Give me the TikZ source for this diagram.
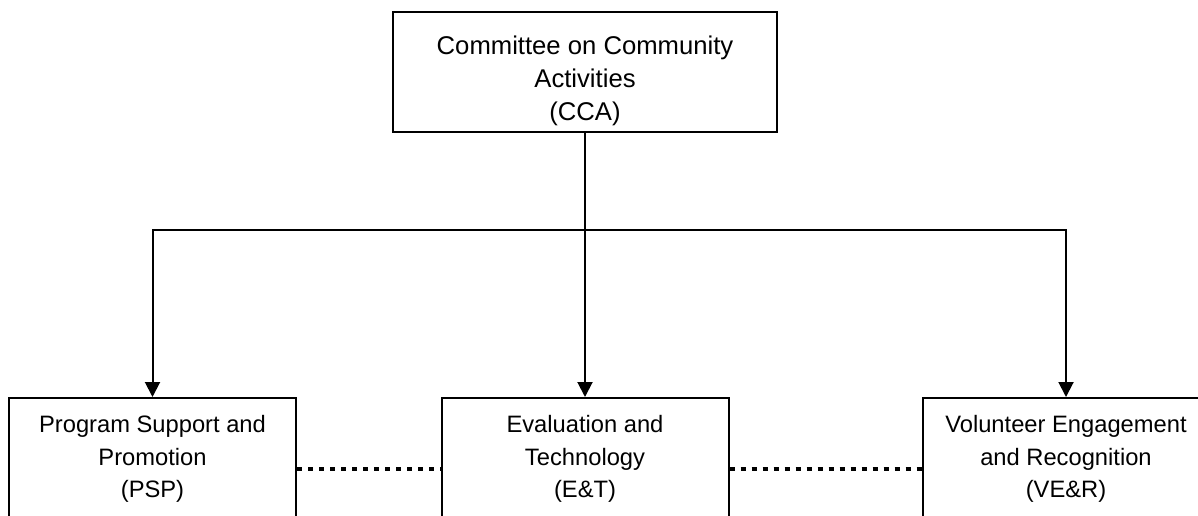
\documentclass[tikz,border=0pt]{standalone}
\usepackage{fontspec}
\setmainfont{Liberation Sans}
\usetikzlibrary{arrows.meta,positioning}

\begin{document}
\begin{tikzpicture}[box/.style={draw, line width=0.04cm, rectangle, align=center}, unit/.style={box, minimum width=5.74cm, minimum height=2.44cm, font=\fontsize{13.5}{18.5}\selectfont}, link/.style={line width=0.04cm}, arr/.style={link, -{Triangle[width=0.3cm,length=0.3cm]}}, dotlink/.style={line width=0.08cm, dash pattern=on 0.1cm off 0.12cm}]
	\useasboundingbox (0,0) rectangle (23.96,10.3);
	\clip (0,0) rectangle (23.96,10.3);

	\node[box, minimum width=7.68cm, minimum height=2.36cm, font=\fontsize{14.6}{18.8}\selectfont] (cca) at (11.7, 8.86) {\rule{0pt}{0.74cm}Committee on Community\\Activities\\(CCA)};

	\node[unit] (psp) at (3.05, 1.12) {Program Support and\\Promotion\\(PSP)};
	\node[unit] (et) at (11.7, 1.12) {Evaluation and\\Technology\\(E\&T)};
	\node[unit] (ver) at (21.32, 1.12) {Volunteer Engagement\\and Recognition\\(VE\&R)};

	\coordinate (split) at (11.7, 5.7);
	\draw[link] (cca.south) -- (split);
	\draw[arr] (split) -| (psp.north);
	\draw[arr] (split) -- (et.north);
	\draw[arr] (split) -| (ver.north);

	% dotted links between the units
	\draw[dotlink] ([yshift=-0.2cm]psp.east) -- ([yshift=-0.2cm]et.west);
	\draw[dotlink] ([yshift=-0.2cm]et.east) -- ([yshift=-0.2cm]ver.west);
\end{tikzpicture}
\end{document}
